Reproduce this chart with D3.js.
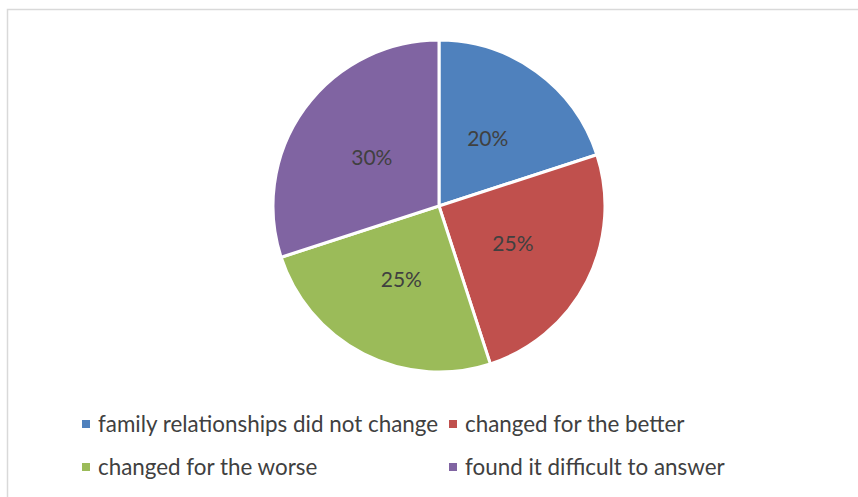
<!DOCTYPE html>
<html><head><meta charset="utf-8">
<script src="https://cdn.jsdelivr.net/npm/d3@7"></script>
<style>body{margin:0;background:#fff}svg{display:block}</style>
</head><body><svg id="c" width="858" height="497"></svg>
<script>
const categories = ["family relationships did not change","changed for the better","changed for the worse","found it difficult to answer"];
const values = [20,25,25,30];
const colors = ["#4f81bd","#c0504d","#9bbb59","#8064a2"];
const labels = ["20%","25%","25%","30%"];

const svg = d3.select("#c");
svg.append("rect").attr("x",7.5).attr("y",9.5).attr("width",860).attr("height",500)
  .attr("fill","#fff").attr("stroke","#d9d9d9").attr("stroke-width",1.5);

const cx=439, cy=206, r=166;
const g = svg.append("g").attr("transform",`translate(${cx},${cy})`);
const pie = d3.pie().sort(null).value(d=>d);
const arc = d3.arc().innerRadius(0).outerRadius(r);
const labArc = d3.arc().innerRadius(r*0.5).outerRadius(r*0.5);
const arcs = pie(values);
g.selectAll("path").data(arcs).enter().append("path")
  .attr("d",arc).attr("fill",(d,i)=>colors[i]).attr("stroke","#fff").attr("stroke-width",3);
g.selectAll("text").data(arcs).enter().append("text")
  .attr("transform",d=>`translate(${labArc.centroid(d)})`)
  .attr("text-anchor","middle").attr("dy","0.35em")
  .attr("font-family","Lato, 'Open Sans', sans-serif").attr("font-size",21).attr("fill","#404040")
  .text((d,i)=>labels[i]);

const pos = [[82,424],[449,424],[82,467],[449,467]];
const lg = svg.append("g");
categories.forEach((c,i)=>{
  lg.append("rect").attr("x",pos[i][0]).attr("y",pos[i][1]-4).attr("width",8).attr("height",8).attr("fill",colors[i]);
  lg.append("text").attr("x",pos[i][0]+16).attr("y",pos[i][1]).attr("dy","0.35em")
    .attr("font-family","Lato, 'Open Sans', sans-serif").attr("font-size",22.4).attr("fill","#404040").text(c);
});
</script></body></html>
